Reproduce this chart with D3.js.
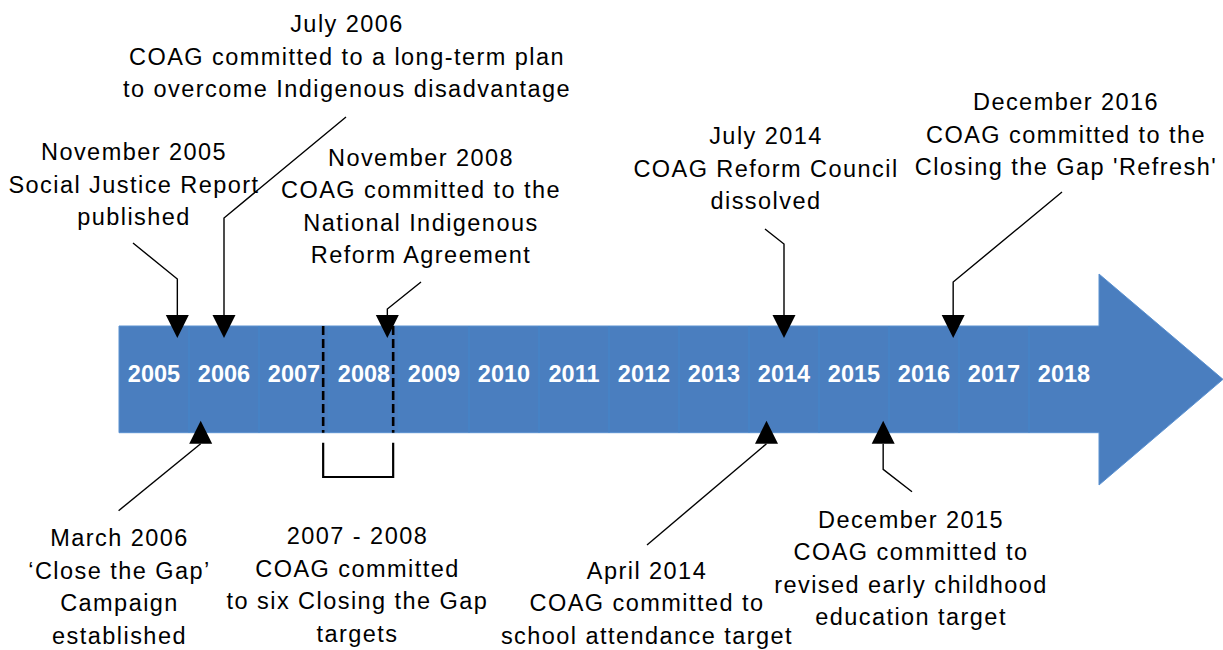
<!DOCTYPE html>
<html>
<head>
<meta charset="utf-8">
<script src="https://d3js.org/d3.v7.min.js"></script>
<style>
    body { margin: 0; background: #fff; }
    .diagram text { font-family: "Liberation Sans", Arial, sans-serif; }
</style>
</head>
<body>
<div class="diagram"></div>
<script>
// timeline data
let years = [2005, 2006, 2007, 2008, 2009, 2010, 2011, 2012, 2013, 2014, 2015, 2016, 2017, 2018];
let monthNames = ["January", "February", "March", "April", "May", "June", "July",
    "August", "September", "October", "November", "December"];

let eventYears  = [2005, 2006, 2008, 2014, 2016, 2006, 2014, 2015];
let eventMonths = [11, 7, 11, 7, 12, 3, 4, 12];
let eventSides  = ["top", "top", "top", "top", "top", "bottom", "bottom", "bottom"];
let eventTexts  = [
    ["Social Justice Report", "published"],
    ["COAG committed to a long-term plan", "to overcome Indigenous disadvantage"],
    ["COAG committed to the", "National Indigenous", "Reform Agreement"],
    ["COAG Reform Council", "dissolved"],
    ["COAG committed to the", "Closing the Gap 'Refresh'"],
    ["\u2018Close the Gap\u2019", "Campaign", "established"],
    ["COAG committed to", "school attendance target"],
    ["COAG committed to", "revised early childhood", "education target"]
];

let rangeFrom = { year: 2007, month: 12 };
let rangeTo   = { year: 2008, month: 12 };
let rangeTexts = ["2007 - 2008", "COAG committed", "to six Closing the Gap", "targets"];

// where each label sits and where its leader line starts (layout only)
let labelLayout = [
    { x: 134,  y: 160,   lx: 133,  ly: 243,   bend: 279 },
    { x: 347,  y: 32,    lx: 346,  ly: 117,   bend: 218 },
    { x: 421,  y: 165.5, lx: 421,  ly: 282,   bend: 309 },
    { x: 766,  y: 144,   lx: 765,  ly: 229,   bend: 244 },
    { x: 1066, y: 110,   lx: 1062, ly: 192,   bend: 282 },
    { x: 119.5, y: 546,  lx: 118.6, ly: 510.7, bend: null },
    { x: 647,  y: 578.5, lx: 647,  ly: 545,   bend: null },
    { x: 911,  y: 527.5, lx: 912,  ly: 491.7, bend: 469.3 }
];
let rangeLayout = { x: 357.5, y: 544, bracketTop: 442.7, bracketBottom: 477 };

class TimelineArrow {
    constructor({ baseElement, width, height, left, right, bandTop, bandBottom, headTop, headBottom }) {
        this.baseElement = baseElement;
        this.width = width;
        this.height = height;
        this.left = left;
        this.right = right;
        this.bandTop = bandTop;
        this.bandBottom = bandBottom;
        this.headTop = headTop;
        this.headBottom = headBottom;
        this.lineHeight = 32.5;
        this.pointerSize = 23;
        this.pointerInset = 12;

        this.x = d3.scaleLinear()
            .domain([years[0], years[years.length - 1] + 1])
            .range([left, right]);

        this.svg = baseElement.append("svg")
            .attr("width", width)
            .attr("height", height);

        this.drawBand();
        this.drawRange();
        this.drawEvents();
    }

    dateToX(year, month) {
        return this.x(year + (month - 1) / 12);
    }

    drawBand() {
        let x = this.x;
        let mid = (this.bandTop + this.bandBottom) / 2;
        let pts = [
            [this.left, this.bandTop], [this.right, this.bandTop], [this.right, this.headTop],
            [this.width, mid], [this.right, this.headBottom], [this.right, this.bandBottom],
            [this.left, this.bandBottom]
        ];
        this.svg.append("path")
            .attr("d", d3.line()(pts) + "Z")
            .style("fill", "#4a7ebf")
            .style("stroke", "#5b91d0")
            .style("stroke-width", 1);

        this.svg.append("g").selectAll("line")
            .data(years.slice(1))
            .enter().append("line")
            .attr("x1", d => x(d)).attr("x2", d => x(d))
            .attr("y1", this.bandTop).attr("y2", this.bandBottom)
            .style("stroke", "#4386cb")
            .style("stroke-width", 1);

        this.svg.append("g").selectAll("text")
            .data(years)
            .enter().append("text")
            .attr("x", d => x(d + 0.5))
            .attr("y", 381.7)
            .attr("text-anchor", "middle")
            .style("font-size", "23.5px")
            .style("font-weight", "bold")
            .style("fill", "#fff")
            .text(d => d);
    }

    drawRange() {
        let x0 = this.dateToX(rangeFrom.year, rangeFrom.month);
        let x1 = this.dateToX(rangeTo.year, rangeTo.month);
        let self = this;
        [x0, x1].forEach(function (xx) {
            self.svg.append("line")
                .attr("x1", xx).attr("x2", xx)
                .attr("y1", self.bandTop).attr("y2", self.bandBottom)
                .style("stroke", "#000")
                .style("stroke-width", 2.6)
                .style("stroke-dasharray", "9,4");
        });
        this.svg.append("path")
            .attr("d", d3.line()([
                [x0, rangeLayout.bracketTop], [x0, rangeLayout.bracketBottom],
                [x1, rangeLayout.bracketBottom], [x1, rangeLayout.bracketTop]
            ]))
            .style("fill", "none")
            .style("stroke", "#000")
            .style("stroke-width", 2.2);
        this.addLabel(rangeLayout.x, rangeLayout.y, rangeTexts);
    }

    drawEvents() {
        let self = this;
        let half = this.pointerSize / 2;
        eventYears.forEach(function (year, i) {
            let tipX = self.dateToX(year, eventMonths[i]);
            let lay = labelLayout[i];
            let tipY, baseY;
            if (eventSides[i] == "top") {
                tipY = self.bandTop + self.pointerInset;
                baseY = tipY - self.pointerSize;
            } else {
                tipY = self.bandBottom - self.pointerInset;
                baseY = tipY + self.pointerSize;
            }

            let pts = [[lay.lx, lay.ly]];
            if (lay.bend !== null) pts.push([tipX, lay.bend]);
            pts.push([tipX, baseY]);
            self.svg.append("path")
                .attr("d", d3.line()(pts))
                .style("fill", "none")
                .style("stroke", "#000")
                .style("stroke-width", 1.4);

            self.svg.append("path")
                .attr("d", d3.line()([[tipX - half, baseY], [tipX + half, baseY], [tipX, tipY]]) + "Z")
                .style("fill", "#000");

            let lines = [monthNames[eventMonths[i] - 1] + " " + year].concat(eventTexts[i]);
            self.addLabel(lay.x, lay.y, lines);
        });
    }

    addLabel(cx, y, lines) {
        let lh = this.lineHeight;
        let t = this.svg.append("text")
            .attr("text-anchor", "middle")
            .style("font-size", "23.5px")
            .style("letter-spacing", "1.45px")
            .style("fill", "#000");
        t.selectAll("tspan")
            .data(lines)
            .enter().append("tspan")
            .attr("x", cx)
            .attr("y", (d, k) => y + k * lh)
            .text(d => d);
    }
}

let config = {
    baseElement: d3.select(".diagram"),
    width: 1223,
    height: 650,
    left: 119,
    right: 1099,
    bandTop: 326,
    bandBottom: 432.7,
    headTop: 274,
    headBottom: 485
};
let timeline = new TimelineArrow(config);
</script>
</body>
</html>
